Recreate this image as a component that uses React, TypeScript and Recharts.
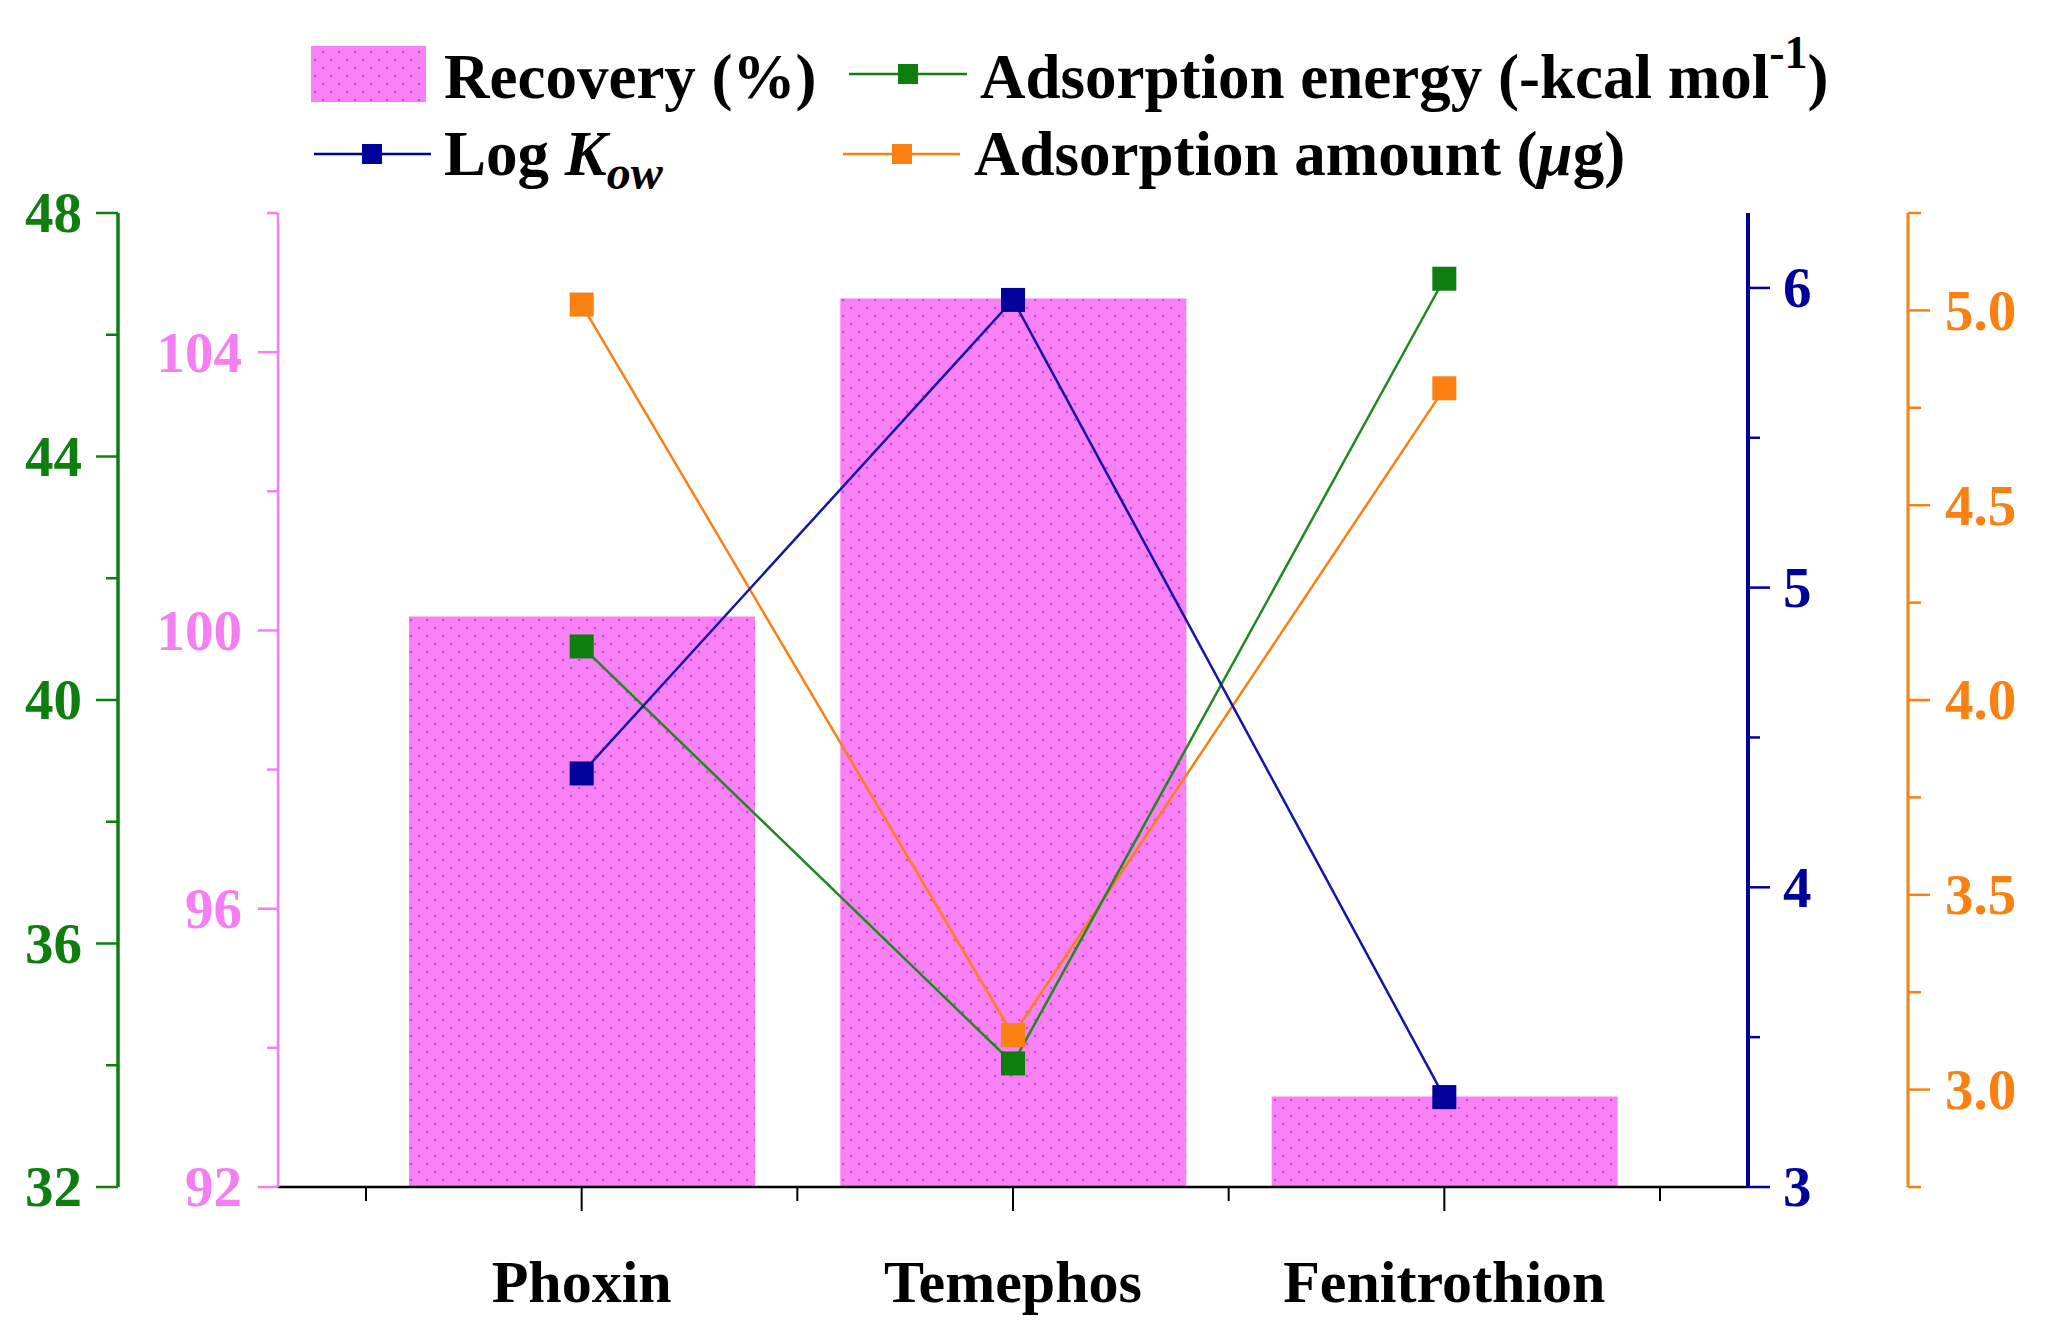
import { ComposedChart, Bar, Line, XAxis, YAxis } from 'recharts'

const categories = ['Phoxin', 'Temephos', 'Fenitrothion']
const recovery = [100.2, 104.77, 93.3]
const adsorptionEnergy = [40.88, 34.03, 46.92]
const logKow = [4.38, 5.96, 3.3]
const adsorptionAmount = [5.015, 3.14, 4.8]

const greenTicks = [32, 34, 36, 38, 40, 42, 44, 46, 48]
const pinkTicks = [92, 94, 96, 98, 100, 102, 104, 106]
const blueTicks = [3, 3.5, 4, 4.5, 5, 5.5, 6]
const orangeTicks = [2.75, 3, 3.25, 3.5, 3.75, 4, 4.25, 4.5, 4.75, 5, 5.25]

const data = categories.map((name, i) => ({
  name,
  recovery: recovery[i],
  energy: adsorptionEnergy[i],
  logKow: logKow[i],
  amount: adsorptionAmount[i],
}))

const FONT = "'Liberation Serif', 'Times New Roman', serif"
const GREEN = '#0E7F0E'
const PINK = '#F57FF2'
const BLUE = '#00009A'
const ORANGE = '#FA8012'

const W = 2049
const H = 1328
const X_PAD = 88
const PLOT_W = W - 278 - 301
const HALF_BAND = (PLOT_W - 2 * X_PAD) / categories.length / 2

// tick renderer for the y axes: long ticks with labels, short ticks without
const yTick = (side: 'left' | 'right', color: string, isMajor: (v: number) => boolean, fmt: (v: number) => string, major: number, minor: number, gap: number) =>
  (props: any) => {
    const { x, y, payload } = props
    const v = payload.value
    const big = isMajor(v)
    const s = side === 'left' ? -1 : 1
    return (
      <g>
        <line x1={x} x2={x + s * (big ? major : minor)} y1={y} y2={y} stroke={color} strokeWidth={2.5} />
        {big && (
          <text
            x={x + s * (major + gap)}
            y={y}
            dy="0.34em"
            textAnchor={side === 'left' ? 'end' : 'start'}
            fill={color}
            fontFamily={FONT}
            fontWeight="bold"
            fontSize={57}
          >
            {fmt(v)}
          </text>
        )}
      </g>
    )
  }

const XTick = (props: any) => {
  const { x, y, payload, index } = props
  return (
    <g>
      <line x1={x} x2={x} y1={y} y2={y + 24} stroke="#000" strokeWidth={2} />
      <line x1={x - HALF_BAND} x2={x - HALF_BAND} y1={y} y2={y + 14} stroke="#000" strokeWidth={2} />
      {index === categories.length - 1 && (
        <line x1={x + HALF_BAND} x2={x + HALF_BAND} y1={y} y2={y + 14} stroke="#000" strokeWidth={2} />
      )}
      <text x={x} y={y + 115} textAnchor="middle" fill="#000" fontFamily={FONT} fontWeight="bold" fontSize={60}>
        {payload.value}
      </text>
    </g>
  )
}

const squareDot = (color: string) => (props: any) => {
  const { cx, cy, index } = props
  return <rect key={`d-${index}`} x={cx - 12} y={cy - 12} width={24} height={24} fill={color} />
}

const DotPattern = ({ id }: { id: string }) => (
  <pattern id={id} width={16} height={16} patternUnits="userSpaceOnUse">
    <rect width={16} height={16} fill="#F781F5" />
    <circle cx={3} cy={4} r={1.3} fill="#E03CDB" />
    <circle cx={11} cy={12} r={1.3} fill="#E03CDB" />
  </pattern>
)

function LegendOverlay() {
  const txt = { fontFamily: FONT, fontWeight: 'bold' as const, fontSize: 63, fill: '#000' }
  return (
    <svg width={W} height={210} style={{ position: 'absolute', left: 0, top: 0 }}>
      <defs>
        <DotPattern id="legendDots" />
      </defs>
      <rect x={311} y={46} width={115} height={56} fill="url(#legendDots)" />
      <text x={444} y={98} {...txt}>Recovery (%)</text>

      <line x1={849} x2={967} y1={74} y2={74} stroke={GREEN} strokeWidth={2.5} />
      <rect x={898} y={64} width={20} height={20} fill={GREEN} />
      <text x={980} y={98} {...txt}>
        Adsorption energy (-kcal mol
        <tspan dy={-30} fontSize={46}>-1</tspan>
        <tspan dy={30}>)</tspan>
      </text>

      <line x1={314} x2={431} y1={154} y2={154} stroke={BLUE} strokeWidth={2.5} />
      <rect x={362} y={144} width={20} height={20} fill={BLUE} />
      <text x={444} y={175} {...txt}>
        Log <tspan fontStyle="italic">K</tspan>
        <tspan fontStyle="italic" fontSize={48} dy={14}>ow</tspan>
      </text>

      <line x1={843} x2={960} y1={154} y2={154} stroke={ORANGE} strokeWidth={2.5} />
      <rect x={892} y={144} width={20} height={20} fill={ORANGE} />
      <text x={974} y={175} {...txt}>
        Adsorption amount (<tspan fontStyle="italic">μ</tspan>g)
      </text>
    </svg>
  )
}

export default function App() {
  return (
    <div style={{ position: 'absolute', left: 0, top: 0, width: W, height: H, background: '#fff' }}>
      <ComposedChart width={W} height={H} data={data} margin={{ top: 213, right: 0, bottom: 0, left: 0 }}>
        <defs>
          <DotPattern id="barDots" />
        </defs>
        <XAxis
          dataKey="name"
          height={141}
          padding={{ left: X_PAD, right: X_PAD }}
          interval={0}
          tickSize={0}
          tickMargin={0}
          tickLine={false}
          axisLine={{ stroke: '#000', strokeWidth: 2.5 }}
          tick={XTick}
        />
        {/* axis ids sort so that "1" sits next to the plot, "2" outside it */}
        <YAxis
          yAxisId="left1"
          orientation="left"
          width={160}
          domain={[92, 106]}
          ticks={pinkTicks}
          interval={0}
          allowDataOverflow
          tickSize={0}
          tickMargin={0}
          tickLine={false}
          axisLine={{ stroke: PINK, strokeWidth: 2.5 }}
          tick={yTick('left', PINK, v => v % 4 === 0, v => String(v), 20, 11, 16)}
        />
        <YAxis
          yAxisId="left2"
          orientation="left"
          width={118}
          domain={[32, 48]}
          ticks={greenTicks}
          interval={0}
          allowDataOverflow
          tickSize={0}
          tickMargin={0}
          tickLine={false}
          axisLine={{ stroke: GREEN, strokeWidth: 3.5 }}
          tick={yTick('left', GREEN, v => v % 4 === 0, v => String(v), 22, 12, 14)}
        />
        <YAxis
          yAxisId="right1"
          orientation="right"
          width={160}
          domain={[3, 6.25]}
          ticks={blueTicks}
          interval={0}
          allowDataOverflow
          tickSize={0}
          tickMargin={0}
          tickLine={false}
          axisLine={{ stroke: BLUE, strokeWidth: 4 }}
          tick={yTick('right', BLUE, v => Number.isInteger(v), v => String(v), 22, 12, 13)}
        />
        <YAxis
          yAxisId="right2"
          orientation="right"
          width={141}
          domain={[2.75, 5.25]}
          ticks={orangeTicks}
          interval={0}
          allowDataOverflow
          tickSize={0}
          tickMargin={0}
          tickLine={false}
          axisLine={{ stroke: ORANGE, strokeWidth: 3 }}
          tick={yTick('right', ORANGE, v => Number.isInteger(v * 2), v => v.toFixed(1), 22, 13, 15)}
        />
        <Bar yAxisId="left1" dataKey="recovery" fill="url(#barDots)" barSize={346} isAnimationActive={false} />
        <Line yAxisId="right2" dataKey="amount" stroke={ORANGE} strokeWidth={2.5} dot={squareDot(ORANGE)} activeDot={false} isAnimationActive={false} />
        <Line yAxisId="left2" dataKey="energy" stroke="#1E8A1E" strokeWidth={2.5} dot={squareDot(GREEN)} activeDot={false} isAnimationActive={false} />
        <Line yAxisId="right1" dataKey="logKow" stroke="#1515A5" strokeWidth={2.5} dot={squareDot(BLUE)} activeDot={false} isAnimationActive={false} />
      </ComposedChart>
      <LegendOverlay />
    </div>
  )
}
